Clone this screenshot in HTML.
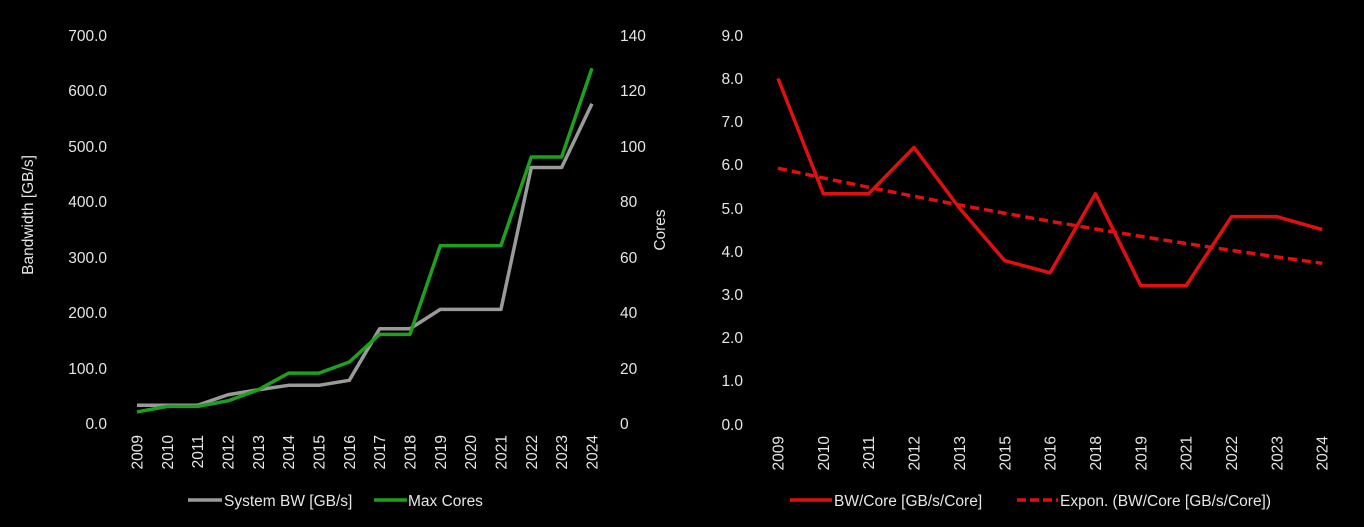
<!DOCTYPE html>
<html><head><style>
body{margin:0;background:#000;}
svg text{font-family:"Liberation Sans",sans-serif;fill:#e6e6e6;font-size:15.5px;}
</style></head><body>
<svg width="1364" height="522" viewBox="0 0 1364 522" xmlns="http://www.w3.org/2000/svg">
<rect width="1364" height="522" fill="#000"/>
<g text-anchor="end">
<text x="107" y="41">700.0</text><text x="107" y="96">600.0</text><text x="107" y="152">500.0</text>
<text x="107" y="207">400.0</text><text x="107" y="263">300.0</text><text x="107" y="318">200.0</text>
<text x="107" y="374">100.0</text><text x="107" y="429">0.0</text>
</g>
<g text-anchor="start">
<text x="620" y="41">140</text><text x="620" y="96">120</text><text x="620" y="152">100</text>
<text x="620" y="207">80</text><text x="620" y="263">60</text><text x="620" y="318">40</text>
<text x="620" y="374">20</text><text x="620" y="429">0</text>
</g>
<text transform="translate(33,215) rotate(-90)" text-anchor="middle">Bandwidth [GB/s]</text>
<text transform="translate(665,230) rotate(-90)" text-anchor="middle">Cores</text>
<g text-anchor="end" id="lx"></g>
<polyline fill="none" stroke="#9a9a9a" stroke-width="3.5" stroke-linejoin="round" id="gray"/>
<polyline fill="none" stroke="#1ea01e" stroke-width="3.5" stroke-linejoin="round" id="green"/>
<line x1="188" y1="500" x2="222" y2="500" stroke="#9a9a9a" stroke-width="3.5"/>
<text x="224" y="506">System BW [GB/s]</text>
<line x1="374" y1="500" x2="407" y2="500" stroke="#1ea01e" stroke-width="3.5"/>
<text x="408" y="506">Max Cores</text>

<g text-anchor="end">
<text x="743" y="41">9.0</text><text x="743" y="84">8.0</text><text x="743" y="127">7.0</text>
<text x="743" y="170">6.0</text><text x="743" y="214">5.0</text><text x="743" y="257">4.0</text>
<text x="743" y="300">3.0</text><text x="743" y="343">2.0</text><text x="743" y="386">1.0</text>
<text x="743" y="430">0.0</text>
</g>
<g text-anchor="end" id="rx"></g>
<polyline fill="none" stroke="#e01010" stroke-width="3.5" stroke-linejoin="round" id="red"/>
<polyline fill="none" stroke="#e01010" stroke-width="3.5" stroke-dasharray="9,5" id="trend"/>
<line x1="790" y1="500" x2="832" y2="500" stroke="#e01010" stroke-width="3.5"/>
<text x="834" y="506">BW/Core [GB/s/Core]</text>
<line x1="1017" y1="500" x2="1058" y2="500" stroke="#e01010" stroke-width="3.5" stroke-dasharray="9,4"/>
<text x="1060" y="506">Expon. (BW/Core [GB/s/Core])</text>
</svg>
<script>
var NS="http://www.w3.org/2000/svg";
function lab(g,x,y,t){var e=document.createElementNS(NS,"text");e.setAttribute("transform","translate("+(x+5.5)+","+y+") rotate(-90)");e.textContent=t;document.getElementById(g).appendChild(e);}
var bw=[32,32,32,51,60,68,68,77,170,170,205,205,205,461,461,576];
var co=[4,6,6,8,12,18,18,22,32,32,64,64,64,96,96,128];
var gp=[],cp=[];
for(var i=0;i<16;i++){var x=137+i*30.33;lab("lx",x,435,String(2009+i));
gp.push(x+","+(423-bw[i]*0.5543));cp.push(x+","+(423-co[i]*2.771));}
document.getElementById("gray").setAttribute("points",gp.join(" "));
document.getElementById("green").setAttribute("points",cp.join(" "));
var yr=[2009,2010,2011,2012,2013,2015,2016,2018,2019,2021,2022,2023,2024];
var v=[8.0,5.33,5.33,6.4,5.0,3.78,3.5,5.33,3.2,3.2,4.8,4.8,4.5];
var rp=[],tp=[];
for(var i=0;i<13;i++){var x=778+i*45.35;lab("rx",x,436,String(yr[i]));
rp.push(x+","+(424-v[i]*43.2));var t=5.92*Math.pow(3.72/5.92,i/12);tp.push(x+","+(424-t*43.2));}
document.getElementById("red").setAttribute("points",rp.join(" "));
document.getElementById("trend").setAttribute("points",tp.join(" "));
</script>
</body></html>
